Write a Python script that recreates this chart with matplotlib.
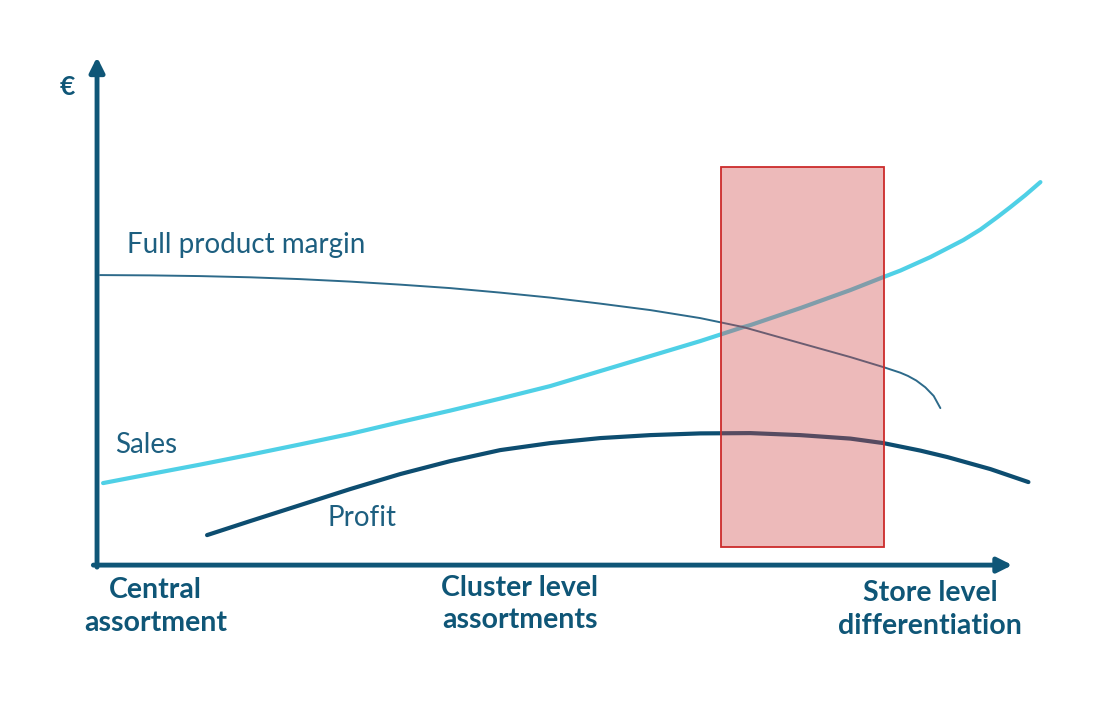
"""
Assortment strategy chart: sales, full product margin and profit
from central assortment to store level differentiation.
"""

import matplotlib.pyplot as plt
from matplotlib.patches import Rectangle

# values (x: 0..100 along the axis, y: 0..100 euro scale)
sales_x = [0.66, 5.79, 11.26, 16.72, 22.19, 27.65, 33.11, 38.58, 44.04, 49.51, 54.97, 60.44, 65.90,
           70.60, 71.37, 76.83, 82.30, 85.90, 87.76, 91.04, 94.64, 96.50, 98.36, 99.78, 101.42, 103.06]
sales_y = [16.24, 18.02, 19.90, 21.86, 23.90, 25.98, 28.32, 30.59, 32.97, 35.45, 38.42, 41.39, 44.36,
           47.13, 47.52, 50.89, 54.46, 57.03, 58.32, 60.99, 64.36, 66.44, 68.91, 70.89, 73.27, 75.84]

margin_x = [0.33, 5.79, 11.26, 16.72, 22.19, 27.65, 33.11, 38.58, 44.04, 49.51, 54.97, 60.44, 65.90,
            70.60, 76.83, 82.30, 85.90, 87.76, 88.60, 89.50, 90.49, 91.40, 92.13]
margin_y = [57.43, 57.37, 57.23, 56.99, 56.63, 56.14, 55.54, 54.85, 53.96, 52.97, 51.78, 50.50, 48.91,
            47.13, 43.96, 41.19, 39.21, 38.10, 37.45, 36.55, 35.20, 33.50, 31.09]

profit_x = [12.02, 16.72, 22.19, 27.65, 33.11, 38.58, 44.04, 49.51, 54.97, 60.44, 65.90, 71.37,
            76.83, 82.30, 85.90, 89.95, 92.90, 97.60, 101.75]
profit_y = [5.94, 8.71, 11.88, 15.05, 18.02, 20.59, 22.77, 24.16, 25.15, 25.74, 26.08, 26.14,
            25.74, 25.05, 24.16, 22.67, 21.39, 19.01, 16.44]

zone_x = [68.2, 86.0]
zone_y = [3.6, 78.8]

stage_labels = ["Central\nassortment", "Cluster level\nassortments", "Store level\ndifferentiation"]
stage_pos = [6.4, 46.2, 91.0]
stage_top = [-2.4, -1.9, -3.0]

AXIS_COLOR = "#0f5677"
TEXT_COLOR = "#1d5f80"

plt.rcParams["font.family"] = ["Lato", "DejaVu Sans"]

fig = plt.figure(figsize=(11.14, 7.06), dpi=100)
ax = fig.add_axes([0, 0, 1, 1])
ax.set_xlim(-10.6, 111.1)
ax.set_ylim(-27.9, 111.9)
ax.axis("off")

# highlighted zone
ax.add_patch(Rectangle((zone_x[0], zone_y[0]), zone_x[1] - zone_x[0], zone_y[1] - zone_y[0],
                       facecolor="#d24a4a", alpha=0.38, edgecolor="none", zorder=3))
ax.add_patch(Rectangle((zone_x[0], zone_y[0]), zone_x[1] - zone_x[0], zone_y[1] - zone_y[0],
                       facecolor="none", edgecolor="#cc2b2b", lw=1.3, zorder=4))

ax.plot(sales_x, sales_y, color="#4fd0e6", lw=3.0, solid_capstyle="round",
        solid_joinstyle="round", zorder=2)
ax.plot(margin_x, margin_y, color="#2d6a8a", lw=1.4, solid_capstyle="round",
        solid_joinstyle="round", zorder=2)
ax.plot(profit_x, profit_y, color="#0d4d70", lw=3.0, solid_capstyle="round",
        solid_joinstyle="round", zorder=2)

# axes arrows
arrow = dict(arrowstyle="-|>", mutation_scale=22, lw=3.5, color=AXIS_COLOR, shrinkA=0, shrinkB=0)
ax.annotate("", xy=(0, 100.6), xytext=(0, -0.4), arrowprops=arrow, zorder=5)
ax.annotate("", xy=(100, 0), xytext=(-0.4, 0), arrowprops=arrow, zorder=5)

ax.text(-3.28, 94.6, "€", fontsize=19, fontweight="bold", color=AXIS_COLOR, ha="center", va="center")
ax.text(3.3, 61.8, "Full product margin", fontsize=20, color=TEXT_COLOR, va="baseline")
ax.text(2.0, 22.2, "Sales", fontsize=20, color=TEXT_COLOR, va="baseline")
ax.text(25.2, 7.7, "Profit", fontsize=20, color=TEXT_COLOR, va="baseline")

for label, pos, top in zip(stage_labels, stage_pos, stage_top):
    ax.text(pos, top, label, fontsize=20.5, fontweight="bold", color=AXIS_COLOR,
            ha="center", va="top", linespacing=1.3)

fig.savefig("out.png", dpi=100)
